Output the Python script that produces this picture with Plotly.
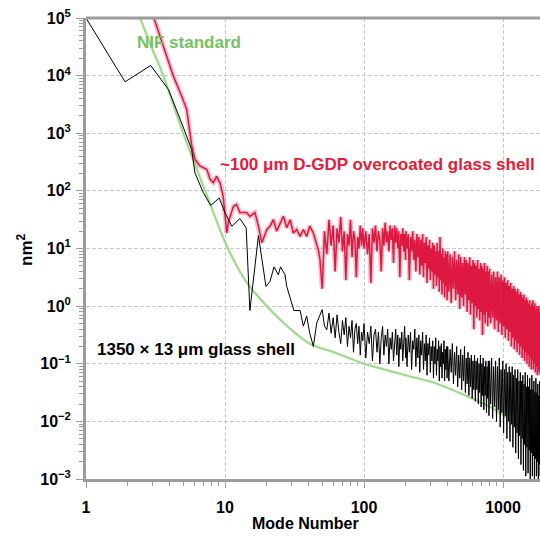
import plotly.graph_objects as go

# ---- NIF standard roughness spectrum (mode number, power nm^2)
nif_mode = [2.45, 3.0, 3.6, 5.0, 7.2, 10.5, 14.3, 20, 28, 41, 60, 100, 150, 200,
            300, 400, 600, 800, 1000, 1300, 1600, 1900]
nif_power = [1e5, 2.9e4, 1e4, 1e3, 100, 10, 2.6, 1.0, 0.45, 0.22, 0.16, 0.1,
             0.076, 0.063, 0.049, 0.038, 0.025, 0.018, 0.013, 0.0085, 0.0058, 0.004]

# ---- low-mode part of the two measured spectra (mode number, power nm^2)
glass_low_mode = [1.0, 1.91, 2.92, 3.91, 4.88, 5.75, 6.08, 6.98, 7.89, 9.1, 10.0, 11.2,
                  12.8, 14.2, 15.1, 17.4, 19.7, 21.1, 22.5, 24.2, 25.1, 27.0, 27.8, 31.3,
                  34.7, 36.6, 38.7, 40.7, 43.2, 45.7]
glass_low_power = [1e5, 7800, 15000, 5800, 1500, 525, 204, 93, 56, 75, 41.5, 24.3,
                   33, 22.7, 0.84, 16.7, 2.2, 2.7, 4.8, 3.5, 4.8, 3.5, 2.2, 0.84,
                   0.84, 0.45, 0.67, 0.34, 0.2, 0.51]

coated_low_mode = [3.08, 3.6, 4.25, 4.88, 5.3, 5.75, 6.08, 6.6, 7.4, 7.8, 8.24, 8.7, 9.2,
                   9.7, 10.3, 10.6, 11.5, 12.1, 12.8, 14.3, 15.1, 16.4, 17.4, 18.4, 20,
                   21.1, 22.3, 23.5, 24.9, 26.3, 27.8, 29.4, 31, 32.8, 34.7, 36.6, 38.7,
                   40.7, 43.2, 46.9, 48.2]
coated_low_power = [1e5, 3.2e4, 9.8e3, 4.4e3, 2.6e3, 630, 350, 270, 235, 160, 138, 178,
                    138, 81, 18.6, 29.5, 54, 58, 42, 42, 36, 42, 24.5, 12.6, 21.4, 24.5,
                    31.6, 20, 27.5, 36.3, 22.9, 31.6, 18.6, 21.4, 16.2, 21.4, 16.2, 24.5,
                    18.6, 9.5, 6.5]

# ---- high-mode part: integer modes, power given as log10(nm^2)
tail_mode = (list(range(50, 100, 2)) + list(range(100, 200, 3)) +
             list(range(200, 400, 4)) + list(range(400, 800, 8)) +
             list(range(800, 1900, 14)))

coated_tail_decade = [
    # 50 - 98
    0.30, 1.30, 0.90, 1.50, 1.05, 1.40, 0.60, 1.35, 1.10, 1.55, 0.95, 1.30, 0.45,
    1.25, 1.05, 1.50, 0.85, 1.30, 1.15, 0.50, 1.20, 1.00, 1.40, 1.05, 1.35,
    # 100 - 199
    1.00, 1.30, 0.90, 1.25, 0.40, 1.35, 1.10, 1.40, 0.95, 1.30, 1.15, 0.60, 1.35,
    1.05, 1.45, 1.10, 1.30, 0.95, 1.40, 1.15, 1.35, 0.75, 1.40, 1.10, 1.35, 1.00,
    1.30, 0.50, 1.25, 1.05, 1.35, 0.95, 1.25, 0.80,
    # 200 - 396
    1.30, 1.00, 1.25, 0.45, 1.20, 0.95, 1.30, 0.80, 1.15, 0.60, 1.25, 0.85, 1.20,
    0.55, 1.15, 0.70, 1.25, 0.50, 1.10, 0.75, 1.20, 0.40, 1.05, 0.65, 1.15, 0.45,
    1.00, 0.60, 1.10, 0.30, 1.05, 0.55, 0.95, 0.35, 1.10, 0.50, 0.95, 0.25, 1.20,
    0.45, 0.90, 0.20, 1.00, 0.40, 0.85, 0.15, 0.95, 0.35, 0.90, 0.10,
    # 400 - 792
    0.95, 0.25, 0.90, 0.05, 0.85, 0.30, 0.95, 0.10, 0.80, 0.20, 0.90, -0.05, 0.85,
    0.15, 0.75, 0.00, 0.85, 0.20, 0.80, -0.10, 0.75, 0.10, 0.85, -0.15, 0.70, 0.05,
    0.80, -0.40, 0.75, 0.00, 0.70, -0.20, 0.80, -0.05, 0.65, -0.25, 0.75, -0.10,
    0.70, -0.50, 0.65, -0.15, 0.75, -0.30, 0.60, -0.10, 0.70, -0.35, 0.60, -0.20,
    # 800 - 1892
    0.65, -0.30, 0.55, -0.20, 0.60, -0.40, 0.50, -0.25, 0.60, -0.45, 0.50, -0.30,
    0.55, -0.50, 0.45, -0.35, 0.50, -0.55, 0.40, -0.40, 0.45, -0.60, 0.35, -0.45,
    0.40, -0.70, 0.30, -0.55, 0.35, -0.75, 0.30, -0.60, 0.25, -0.80, 0.30, -0.65,
    0.20, -0.85, 0.25, -0.70, 0.20, -0.90, 0.15, -0.75, 0.20, -0.95, 0.10, -0.80,
    0.15, -1.00, 0.10, -0.85, 0.05, -1.05, 0.10, -0.90, 0.00, -1.10, 0.05, -0.95,
    0.10, -1.10, 0.00, -1.00, 0.05, -1.15, -0.05, -1.05, 0.00, -1.20, -0.05, -1.10,
    0.00, -1.15, -0.10, -1.20, -0.05, -1.10, -0.10,
]

glass_tail_decade = [
    # 50 - 98
    -0.06, -0.35, -0.41, -0.12, -0.47, -0.20, -0.55, -0.15, -0.45, -0.65, -0.25,
    -0.50, -0.20, -0.70, -0.35, -0.55, -0.25, -0.80, -0.40, -0.30, -0.65, -0.35,
    -0.85, -0.45, -0.60,
    # 100 - 199
    -0.30, -0.90, -0.45, -0.65, -0.35, -0.95, -0.50, -0.40, -0.80, -0.45, -1.00,
    -0.55, -0.35, -0.85, -0.50, -0.70, -0.40, -1.00, -0.55, -0.75, -0.45, -0.95,
    -0.60, -0.40, -0.85, -0.50, -1.05, -0.55, -0.75, -0.45, -0.95, -0.60, -0.35,
    -0.90,
    # 200 - 396
    -0.55, -1.05, -0.50, -0.80, -0.45, -1.10, -0.60, -0.75, -0.40, -1.05, -0.55,
    -0.90, -0.50, -1.15, -0.60, -0.85, -0.45, -1.10, -0.65, -0.95, -0.50, -1.20,
    -0.65, -0.85, -0.55, -1.15, -0.70, -0.95, -0.60, -1.25, -0.70, -1.00, -0.55,
    -1.20, -0.75, -0.95, -0.60, -1.30, -0.70, -1.05, -0.65, -1.25, -0.80, -1.00,
    -0.60, -1.30, -0.75, -1.10, -0.70, -1.25,
    # 400 - 792
    -0.70, -1.30, -0.75, -1.15, -0.65, -1.35, -0.80, -1.20, -0.70, -1.40, -0.85,
    -1.25, -0.75, -1.45, -0.85, -1.30, -0.70, -1.50, -0.90, -1.35, -0.80, -1.55,
    -0.90, -1.40, -0.85, -1.60, -0.95, -1.45, -0.85, -1.65, -0.95, -1.45, -0.90,
    -1.70, -1.00, -1.50, -0.85, -1.75, -1.00, -1.55, -0.90, -1.80, -1.05, -1.55,
    -0.95, -1.85, -1.05, -1.60, -0.95, -1.90,
    # 800 - 1892
    -0.95, -1.70, -0.90, -1.95, -1.05, -1.75, -0.95, -2.00, -1.05, -1.80, -0.90,
    -2.10, -1.10, -1.85, -0.95, -2.20, -1.10, -1.90, -1.00, -2.30, -1.15, -2.00,
    -1.05, -2.35, -1.15, -2.05, -1.05, -2.45, -1.20, -2.10, -1.10, -2.55, -1.25,
    -2.20, -1.10, -2.65, -1.30, -2.25, -1.15, -2.75, -1.30, -2.30, -1.20, -2.85,
    -1.35, -2.40, -1.15, -2.95, -1.40, -2.45, -1.20, -2.90, -1.40, -2.50, -1.25,
    -3.00, -1.45, -2.55, -1.20, -2.95, -1.45, -2.60, -1.30, -3.00, -1.50, -2.65,
    -1.25, -2.95, -1.50, -2.70, -1.35, -3.00, -1.55, -2.75, -1.30, -2.95, -1.55,
    -2.80, -1.40,
]

assert len(coated_tail_decade) == len(tail_mode), (len(coated_tail_decade), len(tail_mode))
assert len(glass_tail_decade) == len(tail_mode), (len(glass_tail_decade), len(tail_mode))

glass_mode = glass_low_mode + tail_mode
glass_power = glass_low_power + [10.0 ** d for d in glass_tail_decade]
coated_mode = coated_low_mode + tail_mode
coated_power = coated_low_power + [10.0 ** d for d in coated_tail_decade]

# ---- axis ticks
x_tickvals = [1, 10, 100, 1000]
x_ticktext = ["1", "10", "100", "1000"]
y_exponents = [-3, -2, -1, 0, 1, 2, 3, 4, 5]
y_tickvals = [10.0 ** e for e in y_exponents]
y_ticktext = ["10<sup>%s</sup>" % (str(e).replace("-", "\u2212")) for e in y_exponents]
x_minor = [m * 10.0 ** k for k in range(0, 4) for m in range(2, 10)]
y_minor = [m * 10.0 ** k for k in range(-3, 5) for m in range(2, 10)]

FONT = "Liberation Sans, Arial, sans-serif"
AXIS_GREY = "#9c9c9c"
GRID = "#c6c6da"

fig = go.Figure()

# NIF standard: soft light-green curve
fig.add_trace(go.Scatter(x=nif_mode, y=nif_power, mode="lines",
                         line=dict(color="rgba(190,228,178,0.45)", width=3.5, shape="spline"),
                         hoverinfo="skip", showlegend=False))
fig.add_trace(go.Scatter(x=nif_mode, y=nif_power, mode="lines",
                         line=dict(color="rgba(140,206,120,0.85)", width=1.6, shape="spline"),
                         showlegend=False))

# overcoated shell: pink halo under a crimson trace
fig.add_trace(go.Scatter(x=coated_mode, y=coated_power, mode="lines",
                         line=dict(color="rgba(236,130,150,0.5)", width=4.8),
                         hoverinfo="skip", showlegend=False))
fig.add_trace(go.Scatter(x=coated_mode, y=coated_power, mode="lines",
                         line=dict(color="rgba(218,0,45,0.88)", width=1.5),
                         showlegend=False))

# bare glass shell
fig.add_trace(go.Scatter(x=glass_mode, y=glass_power, mode="lines",
                         line=dict(color="black", width=1),
                         showlegend=False))

tick_font = dict(family=FONT, size=16, color="black", weight="bold")

fig.update_xaxes(type="log", range=[0, 3.266],
                 tickmode="array", tickvals=x_tickvals, ticktext=x_ticktext,
                 tickfont=tick_font, ticks="outside", ticklen=6, tickwidth=1,
                 tickcolor=AXIS_GREY, ticklabelstandoff=6,
                 showline=True, linecolor=AXIS_GREY, linewidth=3,
                 showgrid=True, gridcolor=GRID, gridwidth=1.3, griddash="4px,2px",
                 minor=dict(tickmode="array", tickvals=x_minor, ticks="outside",
                            ticklen=4, tickcolor=AXIS_GREY, tickwidth=1, showgrid=False),
                 zeroline=False)
fig.update_yaxes(type="log", range=[-3, 5],
                 tickmode="array", tickvals=y_tickvals, ticktext=y_ticktext,
                 tickfont=tick_font, ticks="outside", ticklen=7, tickwidth=1,
                 tickcolor=AXIS_GREY, ticklabelstandoff=2,
                 showline=True, linecolor=AXIS_GREY, linewidth=3,
                 showgrid=True, gridcolor=GRID, gridwidth=1.3, griddash="4px,2px",
                 minor=dict(tickmode="array", tickvals=y_minor, ticks="outside",
                            ticklen=4, tickcolor=AXIS_GREY, tickwidth=1, showgrid=False),
                 zeroline=False)

label_font = dict(family=FONT, size=17, weight="bold")
annotations = [
    dict(text="NIF standard", x=0.3525, y=4.575, xanchor="left", yanchor="middle",
         font=dict(label_font, color="#74c262")),
    dict(text="~100 \u03bcm D-GDP overcoated glass shell", x=0.95, y=2.457,
         xanchor="left", yanchor="middle", font=dict(label_font, color="#e0203a")),
    dict(text="1350 \u00d7 13 \u03bcm glass shell", x=0.065, y=-0.755,
         xanchor="left", yanchor="middle", font=dict(label_font, color="black")),
    dict(text="Mode Number", xref="paper", yref="paper", x=(305 - 86) / 454,
         y=-(523 - 479) / 461, xanchor="center", yanchor="middle",
         font=dict(family=FONT, size=16, color="black", weight="bold")),
    dict(text="nm<sup>2</sup>", xref="paper", yref="paper", x=-(86 - 25) / 454,
         y=(479 - 250) / 461, xanchor="center", yanchor="middle", textangle=-90,
         font=dict(family=FONT, size=17, color="black", weight="bold")),
]
for a in annotations:
    a.setdefault("showarrow", False)
    a.setdefault("xref", "x")
    a.setdefault("yref", "y")
fig.update_layout(annotations=annotations)

# grey frame line along the top of the plotting area
fig.add_shape(type="line", xref="paper", yref="paper", x0=0, x1=1, y0=1, y1=1,
              line=dict(color=AXIS_GREY, width=3))

fig.update_layout(width=540, height=538,
                  margin=dict(l=86, r=0, t=18, b=59),
                  paper_bgcolor="white", plot_bgcolor="white")

fig.write_html("out.html")
